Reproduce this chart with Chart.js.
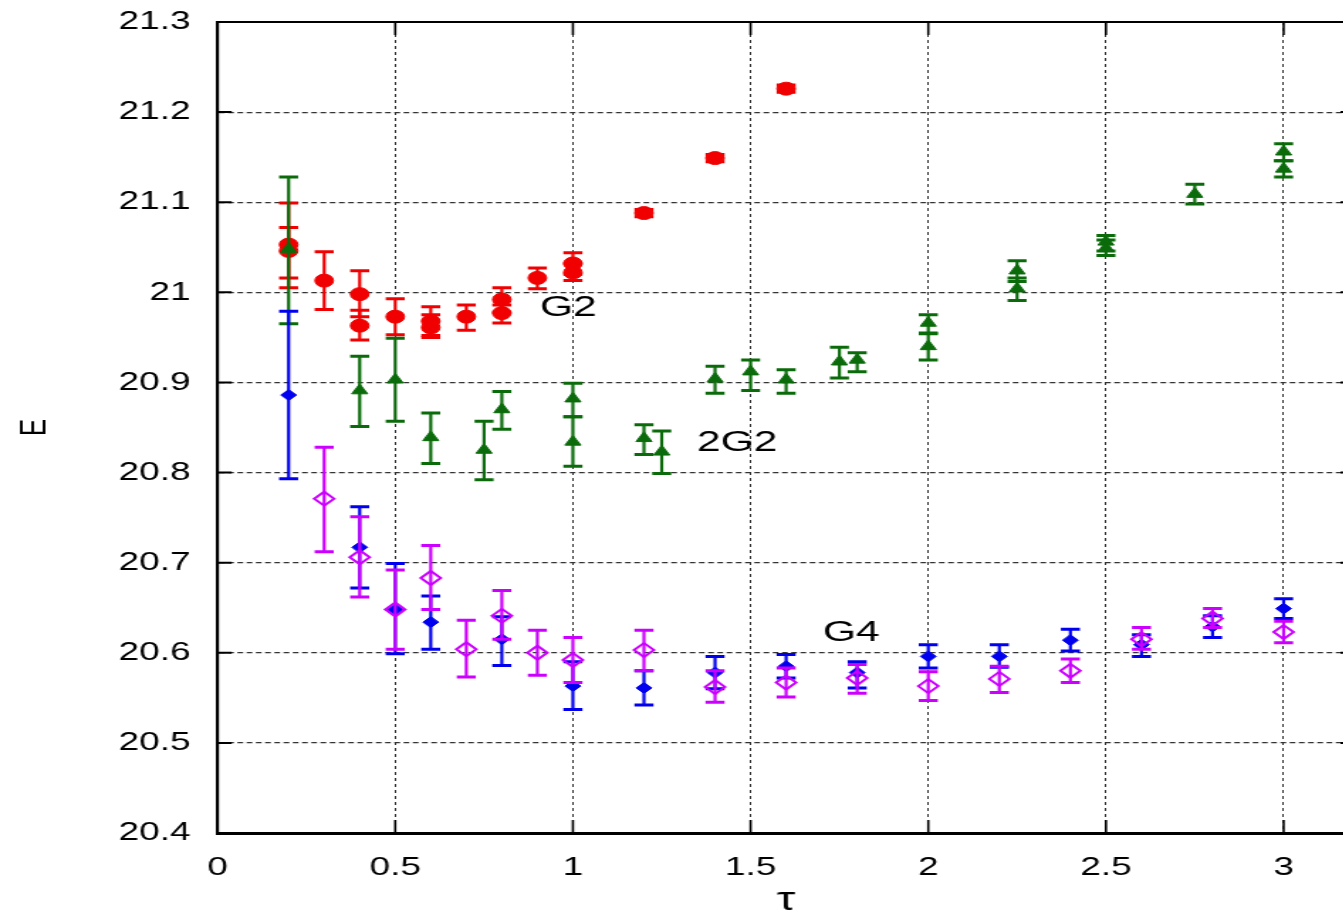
<!DOCTYPE html>
<html>
<head>
<meta charset="utf-8">
<script src="https://cdn.jsdelivr.net/npm/chart.js@4.4.1/dist/chart.umd.min.js"></script>
<style>
  html, body { margin: 0; padding: 0; background: #fff; overflow: hidden; }
  #wrap { position: absolute; left: 0; top: 0; width: 963px; height: 911px;
          transform: scaleX(1.42); transform-origin: 0 0; }
</style>
</head>
<body>
<div id="wrap"><canvas id="energyChart" width="963" height="911"></canvas></div>
<script>
// G2 (red circles)
const tauG2 = [0.2, 0.2, 0.3, 0.4, 0.4, 0.5, 0.6, 0.6, 0.7, 0.8, 0.8, 0.9, 1.0, 1.0, 1.2, 1.4, 1.6];
const eG2   = [21.053, 21.046, 21.013, 20.998, 20.963, 20.973, 20.968, 20.961, 20.973, 20.992, 20.977, 21.016, 21.032, 21.022, 21.088, 21.149, 21.226];
const loG2  = [21.005, 21.016, 20.981, 20.973, 20.947, 20.953, 20.952, 20.950, 20.958, 20.978, 20.966, 21.004, 21.020, 21.013, 21.084, 21.145, 21.222];
const hiG2  = [21.099, 21.072, 21.045, 21.024, 20.980, 20.993, 20.984, 20.975, 20.986, 21.005, 20.986, 21.027, 21.044, 21.032, 21.092, 21.153, 21.230];

// 2G2 (green triangles)
const tau2G2 = [0.2, 0.4, 0.5, 0.6, 0.75, 0.8, 1.0, 1.0, 1.2, 1.25, 1.4, 1.5, 1.6, 1.75, 1.8, 2.0, 2.0, 2.25, 2.25, 2.5, 2.5, 2.75, 3.0, 3.0];
const e2G2   = [21.048, 20.891, 20.903, 20.839, 20.825, 20.870, 20.882, 20.834, 20.838, 20.823, 20.904, 20.912, 20.903, 20.923, 20.925, 20.966, 20.940, 21.024, 21.004, 21.056, 21.049, 21.109, 21.156, 21.137];
const lo2G2  = [20.965, 20.851, 20.857, 20.810, 20.792, 20.848, 20.862, 20.807, 20.820, 20.799, 20.888, 20.891, 20.888, 20.905, 20.912, 20.955, 20.925, 21.012, 20.991, 21.046, 21.041, 21.098, 21.146, 21.128];
const hi2G2  = [21.128, 20.929, 20.949, 20.866, 20.857, 20.890, 20.899, 20.862, 20.853, 20.846, 20.918, 20.925, 20.914, 20.939, 20.933, 20.975, 20.954, 21.035, 21.016, 21.063, 21.058, 21.120, 21.165, 21.146];

// G4 (blue filled diamonds)
const tauG4a = [0.2, 0.4, 0.5, 0.6, 0.8, 1.0, 1.2, 1.4, 1.6, 1.8, 2.0, 2.2, 2.4, 2.6, 2.8, 3.0];
const eG4a   = [20.886, 20.717, 20.648, 20.634, 20.615, 20.563, 20.561, 20.578, 20.585, 20.578, 20.596, 20.596, 20.614, 20.609, 20.629, 20.649];
const loG4a  = [20.793, 20.672, 20.599, 20.604, 20.586, 20.537, 20.542, 20.560, 20.572, 20.561, 20.583, 20.584, 20.602, 20.596, 20.617, 20.638];
const hiG4a  = [20.979, 20.762, 20.699, 20.663, 20.640, 20.590, 20.580, 20.596, 20.598, 20.590, 20.609, 20.609, 20.626, 20.620, 20.641, 20.660];

// G4 (magenta open diamonds)
const tauG4b = [0.3, 0.4, 0.5, 0.6, 0.7, 0.8, 0.9, 1.0, 1.2, 1.4, 1.6, 1.8, 2.0, 2.2, 2.4, 2.6, 2.8, 3.0];
const eG4b   = [20.771, 20.706, 20.648, 20.683, 20.604, 20.641, 20.600, 20.592, 20.603, 20.562, 20.567, 20.572, 20.563, 20.571, 20.580, 20.615, 20.638, 20.623];
const loG4b  = [20.712, 20.662, 20.604, 20.648, 20.573, 20.615, 20.575, 20.567, 20.580, 20.545, 20.551, 20.555, 20.547, 20.556, 20.567, 20.604, 20.628, 20.611];
const hiG4b  = [20.828, 20.751, 20.692, 20.719, 20.636, 20.669, 20.625, 20.617, 20.625, 20.580, 20.583, 20.587, 20.579, 20.585, 20.593, 20.628, 20.649, 20.635];

// ticks
const xTickValues = [0, 0.5, 1, 1.5, 2, 2.5, 3];
const xTickLabels = ['0', '0.5', '1', '1.5', '2', '2.5', '3'];
const yTickValues = [20.4, 20.5, 20.6, 20.7, 20.8, 20.9, 21, 21.1, 21.2, 21.3];
const yTickLabels = ['20.4', '20.5', '20.6', '20.7', '20.8', '20.9', '21', '21.1', '21.2', '21.3'];

// curve labels
const curveNames = ['G2', '2G2', 'G4'];
const curveTau   = [0.907, 1.349, 1.703];
const curveE     = [20.983, 20.833, 20.622];

const FONT = "'Liberation Sans', Arial, sans-serif";

function toPoints(xs, ys) {
    return xs.map((x, i) => ({ x: x, y: ys[i] }));
}

// barras de erro, desenhadas antes dos marcadores de cada série
const errorBars = {
    id: 'errorBars',
    beforeDatasetDraw(chart, args) {
        const ds = chart.data.datasets[args.index];
        if (!ds.errLo) return;
        const ctx = chart.ctx;
        const y = chart.scales.y;
        const area = chart.chartArea;
        ctx.save();
        ctx.beginPath();
        ctx.rect(area.left, area.top, area.right - area.left, area.bottom - area.top);
        ctx.clip();
        ctx.strokeStyle = ds.borderColor;
        args.meta.data.forEach((pt, i) => {
            const yLo = y.getPixelForValue(ds.errLo[i]);
            const yHi = y.getPixelForValue(ds.errHi[i]);
            ctx.lineWidth = 2.2;
            ctx.beginPath();
            ctx.moveTo(pt.x, yLo);
            ctx.lineTo(pt.x, yHi);
            ctx.stroke();
            ctx.lineWidth = 3;
            ctx.beginPath();
            ctx.moveTo(pt.x - 6.7, yLo);
            ctx.lineTo(pt.x + 6.7, yLo);
            ctx.moveTo(pt.x - 6.7, yHi);
            ctx.lineTo(pt.x + 6.7, yHi);
            ctx.stroke();
        });
        ctx.restore();
    }
};

// moldura, marcas internas dos eixos e nomes das curvas
const frameAndLabels = {
    id: 'frameAndLabels',
    afterDraw(chart) {
        const ctx = chart.ctx;
        const a = chart.chartArea;
        const xs = chart.scales.x;
        const ys = chart.scales.y;
        ctx.save();
        ctx.strokeStyle = '#000';
        ctx.lineWidth = 2;
        ctx.beginPath();
        ctx.moveTo(a.left, a.top);
        ctx.lineTo(a.right, a.top);
        ctx.lineTo(a.right, a.bottom);
        ctx.stroke();

        ctx.lineWidth = 2;
        ctx.beginPath();
        yTickValues.forEach(v => {
            const py = ys.getPixelForValue(v);
            ctx.moveTo(a.left, py);
            ctx.lineTo(a.left + 10, py);
            ctx.moveTo(a.right, py);
            ctx.lineTo(a.right - 10, py);
        });
        ctx.stroke();
        ctx.lineWidth = 1.6;
        ctx.beginPath();
        xTickValues.forEach(v => {
            const px = xs.getPixelForValue(v);
            ctx.moveTo(px, a.bottom);
            ctx.lineTo(px, a.bottom - 13);
            ctx.moveTo(px, a.top);
            ctx.lineTo(px, a.top + 13);
        });
        ctx.stroke();

        ctx.fillStyle = '#000';
        ctx.font = '30px ' + FONT;
        ctx.textAlign = 'left';
        ctx.textBaseline = 'middle';
        curveNames.forEach((name, i) => {
            ctx.fillText(name, xs.getPixelForValue(curveTau[i]), ys.getPixelForValue(curveE[i]));
        });
        ctx.restore();
    }
};

document.addEventListener('DOMContentLoaded', function() {
    const ctx = document.getElementById('energyChart').getContext('2d');
    new Chart(ctx, {
        type: 'scatter',
        data: {
            datasets: [
                {
                    label: 'G4 (aberto)',
                    data: toPoints(tauG4b, eG4b),
                    errLo: loG4b, errHi: hiG4b,
                    pointStyle: 'rectRot',
                    pointRadius: 7,
                    borderColor: '#cc00ff',
                    backgroundColor: 'rgba(0,0,0,0)',
                    pointBorderWidth: 2,
                    order: 1
                },
                {
                    label: 'G4',
                    data: toPoints(tauG4a, eG4a),
                    errLo: loG4a, errHi: hiG4a,
                    pointStyle: 'rectRot',
                    pointRadius: 5.5,
                    borderColor: '#0000ee',
                    backgroundColor: '#0000ee',
                    pointBorderWidth: 1,
                    order: 2
                },
                {
                    label: '2G2',
                    data: toPoints(tau2G2, e2G2),
                    errLo: lo2G2, errHi: hi2G2,
                    pointStyle: 'triangle',
                    pointRadius: 6.5,
                    borderColor: '#0b6b0b',
                    backgroundColor: '#0b6b0b',
                    pointBorderWidth: 1,
                    order: 3
                },
                {
                    label: 'G2',
                    data: toPoints(tauG2, eG2),
                    errLo: loG2, errHi: hiG2,
                    pointStyle: 'circle',
                    pointRadius: 6.5,
                    borderColor: '#f00000',
                    backgroundColor: '#f00000',
                    pointBorderWidth: 1,
                    order: 4
                }
            ]
        },
        options: {
            responsive: false,
            devicePixelRatio: 1,
            animation: false,
            layout: { padding: { top: 22, right: 0, left: 0, bottom: 0 } },
            plugins: {
                legend: { display: false },
                tooltip: { enabled: false }
            },
            scales: {
                x: {
                    type: 'linear',
                    min: 0,
                    max: 3.2,
                    afterFit: function(scale) { scale.height = 78; },
                    afterBuildTicks: function(scale) {
                        scale.ticks = xTickValues.map(v => ({ value: v }));
                    },
                    ticks: {
                        padding: 19,
                        color: '#000',
                        font: { family: FONT, size: 26 },
                        maxRotation: 0,
                        callback: function(value) {
                            return xTickLabels[xTickValues.indexOf(value)];
                        }
                    },
                    grid: {
                        color: '#333',
                        lineWidth: 1,
                        drawTicks: false
                    },
                    border: { display: true, color: '#000', width: 3, dash: [3, 3] },
                    title: {
                        display: true,
                        text: 'τ',
                        color: '#000',
                        font: { family: FONT, size: 33, lineHeight: 0.6 },
                        padding: { top: 0, bottom: 0 }
                    }
                },
                y: {
                    type: 'linear',
                    min: 20.4,
                    max: 21.3,
                    afterFit: function(scale) {
                        scale.width = 153.2;
                        scale.paddingTop = 0;
                        scale.paddingBottom = 0;
                    },
                    afterBuildTicks: function(scale) {
                        scale.ticks = yTickValues.map(v => ({ value: v }));
                    },
                    ticks: {
                        padding: 19,
                        color: '#000',
                        font: { family: FONT, size: 26 },
                        callback: function(value) {
                            const i = yTickValues.findIndex(v => Math.abs(v - value) < 1e-6);
                            return yTickLabels[i];
                        }
                    },
                    grid: {
                        color: '#333',
                        lineWidth: 1.2,
                        drawTicks: false
                    },
                    border: { display: true, color: '#000', width: 2.2, dash: [4, 2.5] },
                    title: {
                        display: true,
                        text: 'E',
                        color: '#000',
                        font: { family: FONT, size: 26 },
                        padding: { top: 9, bottom: 9 }
                    }
                }
            }
        },
        plugins: [errorBars, frameAndLabels]
    });
});
</script>
</body>
</html>
